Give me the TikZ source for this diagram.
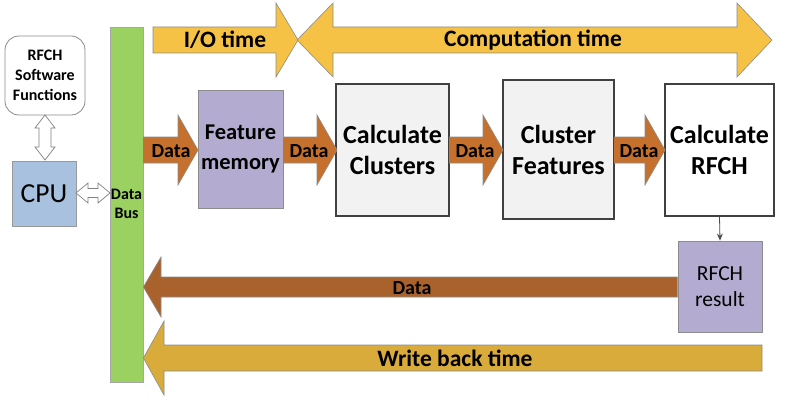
\documentclass[tikz,border=0pt]{standalone}
\usepackage{fontspec}
\setmainfont{Carlito}
\usetikzlibrary{arrows.meta}
\definecolor{topgold}{HTML}{F5C246}
\definecolor{wbgold}{HTML}{D9AB3B}
\definecolor{dbrown}{HTML}{A9622B}
\definecolor{dorange}{HTML}{C5702D}
\definecolor{busgreen}{HTML}{9BD160}
\definecolor{lav}{HTML}{B4ACD0}
\definecolor{cpublue}{HTML}{A8C1DE}
\definecolor{boxgray}{HTML}{F2F2F2}
\tikzset{
  blockarrow/.style={draw=black!45, line width=0.6pt, line join=miter},
  procbox/.style={draw=black!75, line width=1.6pt, fill=boxgray, align=center, inner xsep=1pt, font=\bfseries\fontsize{26}{31}\selectfont},
  lavbox/.style={draw=black!45, line width=0.8pt, fill=lav, align=center, inner xsep=1pt},
  lbl/.style={font=\bfseries\fontsize{23.5}{26}\selectfont, inner sep=0pt},
  datalbl/.style={font=\bfseries\fontsize{20}{22}\selectfont, inner sep=0pt},
  hollow/.style={draw=black!50, fill=white, line width=0.7pt, line join=miter}
}
\newcommand{\dataarrow}[3]{%
  \fill[dorange] (#1,137) -- (#2,137) -- (#2,115) -- (#3,150) -- (#2,185) -- (#2,163) -- (#1,163) -- cycle;
  \draw[blockarrow] (#1,137) -- (#2,137) -- (#2,115) -- (#3,150) -- (#2,185) -- (#2,163) -- (#1,163);
}
\begin{document}
\begin{tikzpicture}[x=1pt,y=-1pt]
\useasboundingbox (0,0) rectangle (792,404);
\fill[white] (0,0) rectangle (792,404);

% top time arrows
\draw[blockarrow, fill=topgold] (153,27) -- (276,27) -- (276,3) -- (298,40) -- (276,77) -- (276,53) -- (153,53) -- cycle;
\node[lbl] (io) at (225,40) {I/O time};
\draw[blockarrow, fill=topgold] (297,40) -- (333,3) -- (333,27) -- (737,27) -- (737,3) -- (772,40) -- (737,77) -- (737,53) -- (333,53) -- (333,77) -- cycle;
\node[lbl] (comp) at (533,40) {Computation time};

% left side
\node[draw=black!45, line width=0.8pt, fill=white, rounded corners=14pt, minimum width=80pt, minimum height=79pt, align=center, font=\bfseries\fontsize{16}{20}\selectfont] (soft) at (45,75.5) {RFCH\\Software\\Functions};
\node[draw=black!40, line width=0.8pt, fill=cpublue, minimum width=64pt, minimum height=65pt, font=\fontsize{27.5}{30}\selectfont] (cpu) at (44,193.5) {CPU};
\node[draw=black!35, line width=0.8pt, fill=busgreen, minimum width=33pt, minimum height=355pt] (bus) at (126.5,204.5) {};
\node[align=center, font=\bfseries\fontsize{16}{19}\selectfont, inner sep=0pt] (buslbl) at (126.5,204) {Data\\Bus};

% hollow double arrows
\draw[hollow] (45,115) -- (55,128) -- (51,128) -- (51,147) -- (55,147) -- (45,160) -- (35,147) -- (39,147) -- (39,128) -- (35,128) -- cycle;
\draw[hollow] (76,193) -- (88,183) -- (88,188.5) -- (98,188.5) -- (98,183) -- (110,193) -- (98,203) -- (98,197.5) -- (88,197.5) -- (88,203) -- cycle;

% pipeline boxes
\node[lavbox, minimum width=85pt, minimum height=118pt, font=\bfseries\fontsize{22.5}{30}\selectfont] (fm) at (240.5,149) {Feature\\memory};
\node[procbox, minimum width=113pt, minimum height=132pt] (cc) at (392.5,150) {Calculate\\Clusters};
\node[procbox, minimum width=111pt, minimum height=139pt] (cf) at (558.5,149.5) {Cluster\\Features};
\node[procbox, fill=white, minimum width=109pt, minimum height=132pt] (cr) at (719.5,150) {Calculate\\RFCH};
\node[lavbox, minimum width=84pt, minimum height=91pt, font=\fontsize{21.5}{26}\selectfont] (res) at (720,286.5) {RFCH\\result};

% data arrows
\dataarrow{143}{178}{198}
\node[datalbl] (d1) at (171,151) {Data};
\dataarrow{283}{317}{337}
\node[datalbl] (d2) at (309,151) {Data};
\dataarrow{449}{483}{503}
\node[datalbl] (d3) at (475,151) {Data};
\dataarrow{614}{645}{665}
\node[datalbl] (d4) at (639,151) {Data};

\draw[black!70, line width=0.8pt, -{Stealth[length=7pt,width=6pt]}] (cr.south) -- (res.north);

% return arrows
\draw[blockarrow, fill=dbrown] (res.west |- 0,277) -- (161,277) -- (161,257) -- (bus.east |- 0,287) -- (161,317) -- (161,297) -- (res.west |- 0,297);
\node[datalbl] (d5) at (412,288) {Data};
\draw[blockarrow, fill=wbgold] (762,345) -- (164,345) -- (164,321) -- (bus.east |- 0,358) -- (164,395) -- (164,371) -- (762,371) -- cycle;
\node[lbl] (wb) at (455,358) {Write back time};
\end{tikzpicture}
\end{document}
